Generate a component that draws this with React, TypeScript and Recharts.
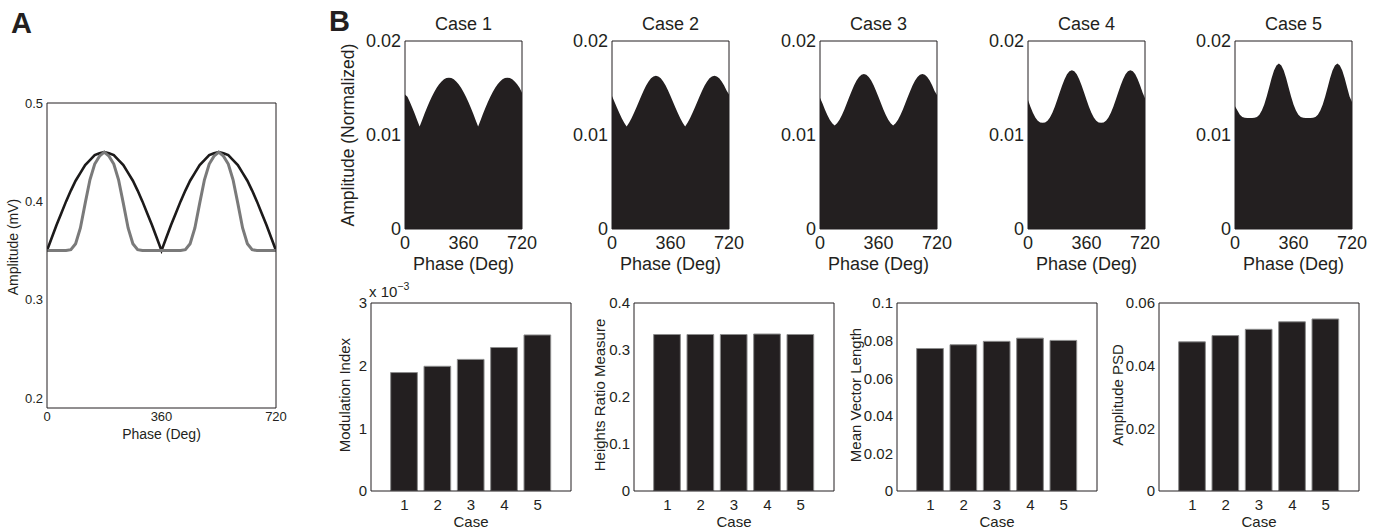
import React from 'react';
import { LineChart, Line, AreaChart, Area, BarChart, Bar, XAxis, YAxis, Label } from 'recharts';

const INK = '#231f20';
const FONT = '"Liberation Sans", Arial, Helvetica, sans-serif';

// phase grid in degrees, shared by panel A and the case panels
const phase = [0, 15, 30, 45, 60, 75, 90, 105, 120, 135, 150, 165, 180, 195, 210, 225, 240, 255, 270, 285, 300, 315, 330, 345, 360, 375, 390, 405, 420, 435, 450, 465, 480, 495, 510, 525, 540, 555, 570, 585, 600, 615, 630, 645, 660, 675, 690, 705, 720];

// Panel A: amplitude envelopes (mV)
const ampBroad = [0.350, 0.363, 0.376, 0.388, 0.400, 0.411, 0.421, 0.429, 0.437, 0.442, 0.447, 0.449, 0.450, 0.449, 0.447, 0.442, 0.437, 0.429, 0.421, 0.411, 0.400, 0.388, 0.376, 0.363, 0.350, 0.363, 0.376, 0.388, 0.400, 0.411, 0.421, 0.429, 0.437, 0.442, 0.447, 0.449, 0.450, 0.449, 0.447, 0.442, 0.437, 0.429, 0.421, 0.411, 0.400, 0.388, 0.376, 0.363, 0.350];
const ampNarrow = [0.350, 0.350, 0.350, 0.350, 0.350, 0.351, 0.357, 0.373, 0.398, 0.422, 0.438, 0.446, 0.450, 0.446, 0.438, 0.422, 0.398, 0.373, 0.357, 0.351, 0.350, 0.350, 0.350, 0.350, 0.350, 0.350, 0.350, 0.350, 0.350, 0.351, 0.357, 0.373, 0.398, 0.422, 0.438, 0.446, 0.450, 0.446, 0.438, 0.422, 0.398, 0.373, 0.357, 0.351, 0.350, 0.350, 0.350, 0.350, 0.350];

// Panel B, top row: normalized amplitude distributions over phase
const caseTitles = ['Case 1', 'Case 2', 'Case 3', 'Case 4', 'Case 5'];
const case1 = [0.0143, 0.01407, 0.0135, 0.01289, 0.01225, 0.01158, 0.0109, 0.01158, 0.01225, 0.01289, 0.0135, 0.01407, 0.01458, 0.01503, 0.0154, 0.0157, 0.01592, 0.01606, 0.0161, 0.01606, 0.01592, 0.0157, 0.0154, 0.01503, 0.01458, 0.01407, 0.0135, 0.01289, 0.01225, 0.01158, 0.0109, 0.01158, 0.01225, 0.01289, 0.0135, 0.01407, 0.01458, 0.01503, 0.0154, 0.0157, 0.01592, 0.01606, 0.0161, 0.01606, 0.01592, 0.0157, 0.0154, 0.01503, 0.0145];
const case2 = [0.01416, 0.01354, 0.01293, 0.01233, 0.01178, 0.0113, 0.0109, 0.0113, 0.01178, 0.01233, 0.01293, 0.01354, 0.01416, 0.01474, 0.01526, 0.0157, 0.01603, 0.01623, 0.0163, 0.01623, 0.01603, 0.0157, 0.01526, 0.01474, 0.01416, 0.01354, 0.01293, 0.01233, 0.01178, 0.0113, 0.0109, 0.0113, 0.01178, 0.01233, 0.01293, 0.01354, 0.01416, 0.01474, 0.01526, 0.0157, 0.01603, 0.01623, 0.0163, 0.01623, 0.01603, 0.0157, 0.01526, 0.01474, 0.0143];
const case3 = [0.01395, 0.01337, 0.01272, 0.01213, 0.01163, 0.01125, 0.011, 0.01125, 0.01163, 0.01213, 0.01272, 0.01337, 0.01403, 0.01469, 0.01528, 0.01579, 0.01618, 0.01642, 0.0165, 0.01642, 0.01618, 0.01579, 0.01528, 0.01469, 0.01403, 0.01337, 0.01272, 0.01213, 0.01163, 0.01125, 0.011, 0.01125, 0.01163, 0.01213, 0.01272, 0.01337, 0.01403, 0.01469, 0.01528, 0.01579, 0.01618, 0.01642, 0.0165, 0.01642, 0.01618, 0.01579, 0.01528, 0.01469, 0.01425];
const case4 = [0.01373, 0.013, 0.01236, 0.01186, 0.01152, 0.01134, 0.0113, 0.01134, 0.01152, 0.01186, 0.01236, 0.013, 0.01374, 0.01451, 0.01526, 0.01593, 0.01645, 0.01679, 0.0169, 0.01679, 0.01645, 0.01593, 0.01526, 0.01451, 0.01374, 0.013, 0.01236, 0.01186, 0.01152, 0.01134, 0.0113, 0.01134, 0.01152, 0.01186, 0.01236, 0.013, 0.01374, 0.01451, 0.01526, 0.01593, 0.01645, 0.01679, 0.0169, 0.01679, 0.01645, 0.01593, 0.01526, 0.01451, 0.0139];
const case5 = [0.01305, 0.0126, 0.01216, 0.01192, 0.01183, 0.0118, 0.0118, 0.0118, 0.01183, 0.01192, 0.01216, 0.0126, 0.01325, 0.0141, 0.01506, 0.01603, 0.01685, 0.0174, 0.0176, 0.0174, 0.01685, 0.01603, 0.01506, 0.0141, 0.01325, 0.0126, 0.01216, 0.01192, 0.01183, 0.0118, 0.0118, 0.0118, 0.01183, 0.01192, 0.01216, 0.0126, 0.01325, 0.0141, 0.01506, 0.01603, 0.01685, 0.0174, 0.0176, 0.0174, 0.01685, 0.01603, 0.01506, 0.0141, 0.0135];
const caseAmplitudes = [case1, case2, case3, case4, case5];

// Panel B, bottom row: coupling measures per case
const caseNumbers = ['1', '2', '3', '4', '5'];
const modulationIndex = [0.00189, 0.00199, 0.0021, 0.00229, 0.00249];
const heightsRatio = [0.333, 0.333, 0.333, 0.334, 0.333];
const meanVectorLength = [0.0758, 0.0778, 0.0796, 0.0813, 0.0801];
const amplitudePsd = [0.0476, 0.0496, 0.0516, 0.054, 0.0549];

const plainLabel = (value: string, x: number, y: number, size: number) => (
  <Label
    content={() => (
      <text x={x} y={y} textAnchor="middle" fontSize={size} fill={INK}>{value}</text>
    )}
  />
);

const sideLabel = (value: string, x: number, y: number, size: number) => (
  <Label
    content={() => (
      <text x={x} y={y} transform={`rotate(-90, ${x}, ${y})`} textAnchor="middle" dominantBaseline="central" fontSize={size} fill={INK}>
        {value}
      </text>
    )}
  />
);

// mirrored axes: box outline on top/right plus inward ticks on all four sides
function frame(xProps: any, yProps: any, len = 3) {
  return [
    <XAxis key="fb" xAxisId="fb" orientation="bottom" mirror height={1} {...xProps} allowDataOverflow interval={0} tick={false} tickSize={len} axisLine={false} stroke={INK} />,
    <XAxis key="ft" xAxisId="ft" orientation="top" mirror height={1} {...xProps} allowDataOverflow interval={0} tick={false} tickSize={len} stroke={INK} />,
    <YAxis key="fl" yAxisId="fl" orientation="left" mirror width={1} {...yProps} allowDataOverflow interval={0} tick={false} tickSize={len} axisLine={false} stroke={INK} />,
    <YAxis key="fr" yAxisId="fr" orientation="right" mirror width={1} {...yProps} allowDataOverflow interval={0} tick={false} tickSize={len} stroke={INK} />,
  ];
}

const fmt = (v: number) => (v === 0 ? '0' : String(v));

function PanelA() {
  const data = phase.map((p, i) => ({ phase: p, broad: ampBroad[i], narrow: ampNarrow[i] }));
  return (
    <div style={{ position: 'absolute', left: 0, top: 90 }}>
      <LineChart width={290} height={358} data={data} margin={{ top: 13, right: 14, bottom: 0, left: 0 }}>
        <XAxis xAxisId="main" dataKey="phase" type="number" domain={[0, 720]} ticks={[0, 360, 720]} interval={0} allowDataOverflow height={40} tickLine={false} tickSize={0} tickMargin={4} stroke={INK} tick={{ fill: INK, fontSize: 13 }}>
          {plainLabel('Phase (Deg)', 161.5, 349, 14)}
        </XAxis>
        <YAxis yAxisId="main" type="number" domain={[0.19, 0.5]} ticks={[0.2, 0.3, 0.4, 0.5]} interval={0} allowDataOverflow width={47} tickLine={false} tickSize={0} tickMargin={4} stroke={INK} tick={{ fill: INK, fontSize: 13 }} tickFormatter={fmt}>
          {sideLabel('Amplitude (mV)', 13, 157, 14)}
        </YAxis>
        {frame(
          { dataKey: 'phase', type: 'number', domain: [0, 720], ticks: [0, 360, 720] },
          { type: 'number', domain: [0.19, 0.5], ticks: [0.2, 0.25, 0.3, 0.35, 0.4, 0.45, 0.5] }
        )}
        <Line xAxisId="main" yAxisId="main" type="linear" dataKey="broad" stroke="#1c1a1a" strokeWidth={2.6} dot={false} isAnimationActive={false} />
        <Line xAxisId="main" yAxisId="main" type="linear" dataKey="narrow" stroke="#7a7a7a" strokeWidth={3} dot={false} isAnimationActive={false} />
      </LineChart>
    </div>
  );
}

function CasePanel({ index }: { index: number }) {
  const L = 70, T = 41, R = 22, W = 117, H = 188, B = 50;
  const x0 = 404.7 + 207.6 * index;
  const data = phase.map((p, i) => ({ phase: p, amp: caseAmplitudes[index][i] }));
  return (
    <div style={{ position: 'absolute', left: x0 - L, top: 0 }}>
      <AreaChart width={L + W + R} height={T + H + B} data={data} margin={{ top: T, right: R, bottom: 0, left: 0 }}>
        <XAxis xAxisId="main" dataKey="phase" type="number" domain={[0, 720]} ticks={[0, 360, 720]} interval={0} allowDataOverflow height={B} tickLine={false} tickSize={0} tickMargin={7} stroke={INK} tick={{ fill: INK, fontSize: 18 }}>
          {plainLabel(caseTitles[index], L + W / 2, 30, 18)}
          {plainLabel('Phase (Deg)', L + W / 2, 270, 18)}
          {index === 0 ? sideLabel('Amplitude (Normalized)', 12.5, 135, 17.5) : null}
        </XAxis>
        <YAxis yAxisId="main" type="number" domain={[0, 0.02]} ticks={[0, 0.01, 0.02]} interval={0} allowDataOverflow width={L} tickLine={false} tickSize={0} tickMargin={4} stroke={INK} tick={{ fill: INK, fontSize: 18 }} tickFormatter={fmt} />
        {frame(
          { dataKey: 'phase', type: 'number', domain: [0, 720], ticks: [0, 360, 720] },
          { type: 'number', domain: [0, 0.02], ticks: [0, 0.005, 0.01, 0.015, 0.02] }
        )}
        <Area xAxisId="main" yAxisId="main" type="linear" dataKey="amp" stroke="none" fill={INK} fillOpacity={1} isAnimationActive={false} />
      </AreaChart>
    </div>
  );
}

const measurePanels = [
  { title: 'Modulation Index', values: modulationIndex, max: 0.003, ticks: [0, 0.001, 0.002, 0.003], format: (v: number) => String(Math.round(v * 1000)), labelX: 35 },
  { title: 'Heights Ratio Measure', values: heightsRatio, max: 0.4, ticks: [0, 0.1, 0.2, 0.3, 0.4], format: fmt, labelX: 27 },
  { title: 'Mean Vector Length', values: meanVectorLength, max: 0.1, ticks: [0, 0.02, 0.04, 0.06, 0.08, 0.1], format: fmt, labelX: 20 },
  { title: 'Amplitude PSD', values: amplitudePsd, max: 0.06, ticks: [0, 0.02, 0.04, 0.06], format: fmt, labelX: 20 },
];

function MeasurePanel({ index }: { index: number }) {
  const cfg = measurePanels[index];
  const L = 62, T = 25, R = 12, W = 200, H = 188, B = 39;
  const x0 = 370.7 + 262.9 * index;
  const pad = W / 12;
  const data = caseNumbers.map((c, i) => ({ caseNo: c, value: cfg.values[i] }));
  return (
    <div style={{ position: 'absolute', left: x0 - L, top: 303 - T }}>
      <BarChart width={L + W + R} height={T + H + B} data={data} margin={{ top: T, right: R, bottom: 0, left: 0 }}>
        <XAxis xAxisId="main" dataKey="caseNo" type="category" padding={{ left: pad, right: pad }} interval={0} height={B} tickLine={false} tickSize={0} tickMargin={8} stroke={INK} tick={{ fill: INK, fontSize: 15 }}>
          {plainLabel('Case', L + W / 2, 249, 15)}
        </XAxis>
        <YAxis yAxisId="main" type="number" domain={[0, cfg.max]} ticks={cfg.ticks} interval={0} allowDataOverflow width={L} tickLine={false} tickSize={0} tickMargin={4} stroke={INK} tick={{ fill: INK, fontSize: 15 }} tickFormatter={cfg.format}>
          {sideLabel(cfg.title, cfg.labelX, 117, 15)}
        </YAxis>
        {frame(
          { dataKey: 'caseNo', type: 'category', padding: { left: pad, right: pad } },
          { type: 'number', domain: [0, cfg.max], ticks: cfg.ticks }
        )}
        <Bar xAxisId="main" yAxisId="main" dataKey="value" fill={INK} stroke="#8c8c8c" strokeWidth={1} barSize={26.7} isAnimationActive={false} />
      </BarChart>
    </div>
  );
}

export default function App() {
  return (
    <div style={{ position: 'absolute', left: 0, top: 0, width: 1383, height: 530, background: '#fff', fontFamily: FONT, overflow: 'hidden' }}>
      <PanelA />
      {caseTitles.map((t, i) => <CasePanel key={t} index={i} />)}
      {measurePanels.map((p, i) => <MeasurePanel key={p.title} index={i} />)}
      <svg width={1383} height={530} style={{ position: 'absolute', left: 0, top: 0, pointerEvents: 'none' }}>
        <text x={11} y={33} fontSize={29} fontWeight="bold" fill={INK}>A</text>
        <text x={329} y={31} fontSize={29} fontWeight="bold" fill={INK}>B</text>
        <text x={369} y={296.5} fontSize={15} fill={INK}>
          x 10<tspan dy={-7} fontSize={10.5}>−3</tspan>
        </text>
      </svg>
    </div>
  );
}
